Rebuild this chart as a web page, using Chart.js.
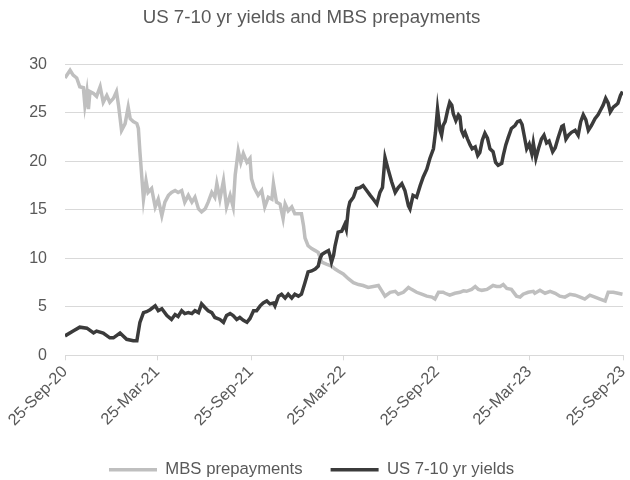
<!DOCTYPE html>
<html>
<head>
<meta charset="utf-8">
<script src="https://cdn.jsdelivr.net/npm/chart.js@4.4.0/dist/chart.umd.min.js"></script>
<style>
    body { margin: 0; background: #ffffff; }
    #box { width: 630px; height: 480px; }
</style>
</head>
<body>
<div id="box"><canvas id="canvasYields"></canvas></div>
<script>
// days counted from 25-Sep-20
let tickDays = [0, 181, 365, 546, 730, 911, 1095];
let tickLabels = ['25-Sep-20', '25-Mar-21', '25-Sep-21', '25-Mar-22', '25-Sep-22', '25-Mar-23', '25-Sep-23'];

let mbsDays = [0, 10, 16, 23, 29, 36, 39, 43, 46, 49, 56, 62, 69, 75, 82, 88, 95, 101, 105, 111, 118, 124, 128, 134, 141, 144,
    147, 150, 154, 159, 163, 170, 177, 183, 190, 196, 203, 209, 216, 222, 229, 235, 242, 249, 255, 262, 268, 275, 281, 288,
    294, 298, 304, 311, 317, 324, 330, 334, 340, 345, 350, 357, 363, 366, 371, 379, 386, 392, 399, 406, 409, 415, 422, 428,
    432, 438, 445, 451, 458, 464, 468, 471, 477, 484, 491, 497, 504, 513, 523, 530, 536, 546, 556, 566, 576, 585, 595, 605,
    615, 621, 628, 638, 648, 654, 664, 674, 680, 690, 700, 710, 720, 726, 733, 742, 746, 755, 765, 775, 782, 788, 798, 805,
    811, 818, 828, 834, 840, 847, 854, 860, 867, 876, 886, 893, 899, 909, 919, 922, 932, 942, 952, 962, 971, 981, 991, 1001,
    1011, 1020, 1030, 1040, 1050, 1060, 1066, 1076, 1085, 1094];
let mbsValues = [28.6, 29.4, 28.9, 28.6, 27.7, 27.6, 25.8, 27.2, 25.4, 27.2, 27.0, 26.7, 27.7, 26.1, 26.8, 26.1, 26.5, 27.2, 25.8, 23.2, 23.9, 25.6, 24.4, 24.1, 23.9, 23.4,
    21.0, 18.9, 16.1, 18.0, 16.8, 17.2, 15.3, 16.1, 14.4, 15.8, 16.5, 16.8, 17.0, 16.8, 17.0, 15.8, 16.5, 15.8, 16.3, 15.1, 14.8, 15.1, 15.8, 16.8,
    16.3, 17.7, 16.1, 18.0, 15.3, 16.5, 15.3, 18.6, 21.1, 19.9, 20.8, 19.9, 20.3, 18.2, 17.3, 16.5, 17.0, 15.3, 16.3, 16.1, 17.7, 15.8, 15.6, 14.1,
    15.6, 14.9, 15.3, 14.6, 14.6, 14.6, 13.4, 12.1, 11.3, 11.0, 10.8, 10.6, 9.6, 9.4, 9.2, 8.9, 8.7, 8.4, 7.9, 7.5, 7.3, 7.2, 7.0, 7.1,
    7.2, 6.7, 6.1, 6.5, 6.6, 6.3, 6.5, 7.0, 6.8, 6.5, 6.3, 6.1, 6.0, 5.8, 6.5, 6.5, 6.4, 6.2, 6.4, 6.5, 6.65, 6.6, 6.8, 7.1,
    6.8, 6.7, 6.8, 7.0, 7.2, 7.1, 7.1, 7.3, 6.9, 6.8, 6.1, 6.0, 6.3, 6.5, 6.6, 6.4, 6.7, 6.4, 6.6, 6.4, 6.1, 6.0, 6.3, 6.2,
    6.0, 5.8, 6.2, 6.0, 5.8, 5.6, 6.5, 6.5, 6.4, 6.3];

let yieldDays = [0, 16, 29, 43, 56, 62, 75, 88, 95, 108, 121, 134, 141, 147, 154, 160, 167, 177, 183, 190, 200, 209, 216, 222, 229,
    235, 242, 249, 255, 262, 268, 275, 281, 288, 294, 304, 311, 317, 324, 330, 337, 343, 350, 357, 363, 370, 376, 383, 389, 396,
    402, 409, 412, 419, 425, 432, 438, 445, 451, 458, 464, 471, 477, 484, 491, 497, 500, 504, 510, 517, 520, 523, 527, 530, 536,
    543, 549, 552, 556, 559, 566, 572, 579, 585, 592, 599, 605, 612, 618, 623, 628, 634, 641, 648, 654, 661, 667, 674, 677, 683,
    690, 697, 703, 710, 716, 723, 727, 731, 736, 739, 742, 746, 751, 755, 759, 762, 767, 772, 775, 778, 782, 785, 790, 795, 799,
    805, 810, 814, 819, 824, 829, 834, 840, 845, 850, 857, 860, 865, 870, 876, 883, 888, 893, 897, 901, 906, 911, 916, 919, 924,
    929, 935, 940, 945, 950, 957, 962, 968, 975, 978, 983, 988, 994, 1001, 1007, 1012, 1017, 1022, 1027, 1033, 1040, 1046, 1051,
    1056, 1061, 1066, 1070, 1076, 1081, 1085, 1090, 1094];
let yieldValues = [2.0, 2.5, 2.9, 2.8, 2.3, 2.5, 2.3, 1.8, 1.8, 2.3, 1.65, 1.5, 1.5, 3.4, 4.4, 4.5, 4.7, 5.1, 4.6, 4.8, 4.1, 3.7, 4.2, 4.0, 4.6,
    4.3, 4.4, 4.3, 4.6, 4.4, 5.3, 4.9, 4.6, 4.4, 3.9, 3.7, 3.4, 4.1, 4.3, 4.1, 3.7, 3.9, 3.6, 3.4, 3.8, 4.6, 4.6, 5.1, 5.4, 5.6,
    5.3, 5.4, 5.1, 6.1, 6.3, 5.9, 6.3, 5.9, 6.3, 6.1, 6.3, 7.5, 8.6, 8.7, 8.9, 9.2, 9.9, 10.4, 10.6, 10.8, 10.3, 9.6, 10.3, 11.3, 12.7,
    12.8, 13.5, 13.0, 15.1, 15.8, 16.3, 17.2, 17.3, 17.5, 17.0, 16.5, 16.1, 15.6, 16.8, 17.3, 20.4, 19.2, 17.9, 16.8, 17.3, 17.7, 17.0, 15.4, 15.1, 16.5,
    16.3, 17.5, 18.4, 19.2, 20.3, 21.3, 23.0, 25.4, 23.2, 22.7, 23.7, 24.1, 25.3, 26.1, 25.8, 24.9, 24.2, 24.8, 24.6, 23.2, 22.7, 23.0, 22.3, 21.7, 21.3,
    21.5, 20.6, 20.9, 22.2, 22.9, 22.4, 21.3, 21.0, 19.9, 19.6, 19.8, 20.6, 21.7, 22.5, 23.4, 23.7, 24.1, 24.2, 23.8, 22.7, 21.3, 21.8, 20.8, 21.9, 20.3,
    21.3, 22.3, 22.7, 21.9, 22.1, 21.0, 21.4, 22.5, 23.6, 23.7, 22.3, 22.7, 23.0, 23.2, 22.7, 24.1, 24.8, 24.3, 23.2, 23.7, 24.4, 24.8, 25.3,
    25.8, 26.5, 26.0, 25.1, 25.6, 25.8, 26.0, 26.8, 27.2];

let fonte = '"Liberation Sans", Arial, sans-serif';
let corTexto = '#595959';
let corGrade = '#d9d9d9';

function pontos(dias, valores) {
    return dias.map(function (d, i) { return { x: d, y: valores[i] }; });
}

let canvasYields = document.getElementById('canvasYields').getContext('2d');
let chart = new Chart(canvasYields, {
    type: 'line',

    data: {
        datasets: [{
            label: 'MBS prepayments',
            data: pontos(mbsDays, mbsValues),
            borderColor: '#bfbfbf',
            backgroundColor: '#bfbfbf',
            borderWidth: 3.5,
            pointRadius: 0,
            tension: 0,
            order: 1
        }, {
            label: 'US 7-10 yr yields',
            data: pontos(yieldDays, yieldValues),
            borderColor: '#3b3b3b',
            backgroundColor: '#3b3b3b',
            borderWidth: 3.5,
            pointRadius: 0,
            tension: 0,
            order: 0
        }]
    },

    options: {
        responsive: true,
        maintainAspectRatio: false,
        animation: false,
        layout: { padding: { left: 0, right: 7, top: 0, bottom: -8 } },
        plugins: {
            title: {
                display: true,
                text: 'US 7-10 yr yields and MBS prepayments',
                color: corTexto,
                font: { family: fonte, size: 18.7, weight: 'normal' },
                padding: { top: 7, bottom: 35 }
            },
            legend: {
                position: 'bottom',
                labels: {
                    color: corTexto,
                    font: { family: fonte, size: 16.7 },
                    usePointStyle: true,
                    pointStyle: 'line',
                    pointStyleWidth: 48,
                    padding: 28,
                    sort: function (a, b) { return a.datasetIndex - b.datasetIndex; }
                }
            },
            tooltip: { enabled: false }
        },
        scales: {
            x: {
                type: 'linear',
                min: 0,
                max: 1095,
                afterBuildTicks: function (scale) {
                    scale.ticks = tickDays.map(function (d) { return { value: d }; });
                },
                afterFit: function (scale) {
                    scale.paddingRight = 0;
                    scale.paddingLeft = 0;
                    scale.height = 78;
                },
                ticks: {
                    autoSkip: false,
                    minRotation: 45,
                    maxRotation: 45,
                    padding: 2,
                    color: corTexto,
                    font: { family: fonte, size: 16.3 },
                    callback: function (value) {
                        return tickLabels[tickDays.indexOf(value)];
                    }
                },
                grid: {
                    drawOnChartArea: false,
                    drawTicks: true,
                    tickLength: 5,
                    color: corGrade
                },
                border: { display: true, color: corGrade }
            },
            y: {
                min: 0,
                max: 30,
                afterFit: function (scale) { scale.width = 65; },
                ticks: {
                    stepSize: 5,
                    padding: 18,
                    color: corTexto,
                    font: { family: fonte, size: 16 }
                },
                grid: {
                    color: corGrade,
                    drawTicks: false
                },
                border: { display: false }
            }
        }
    }
});
</script>
</body>
</html>
